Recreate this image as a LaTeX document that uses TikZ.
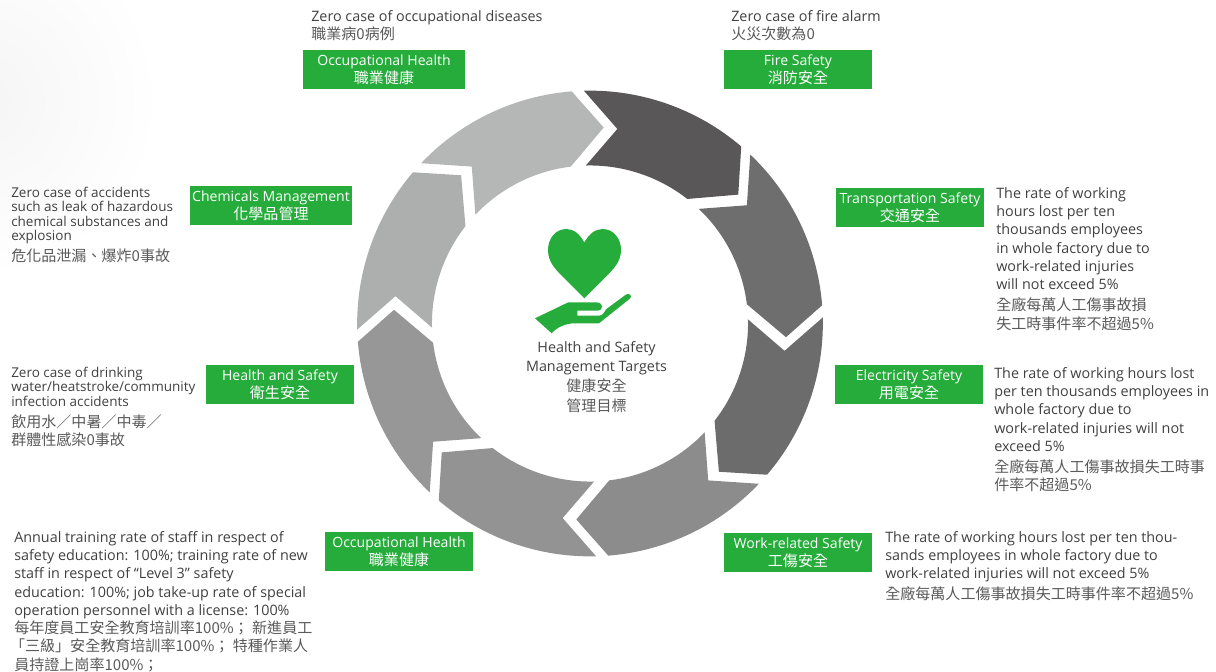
\documentclass[tikz,border=0pt]{standalone}
\usepackage{fontspec}
\setmainfont{Open Sans}
\newfontfamily\cjkfont{Noto Sans CJK TC}
\usetikzlibrary{positioning}

\definecolor{boxgreen}{HTML}{25AC3B}
\definecolor{textgray}{HTML}{404040}
\definecolor{cjkgray}{HTML}{5A5A5A}
\definecolor{ringA}{HTML}{595757}
\definecolor{ringB}{HTML}{6E6E6E}
\definecolor{ringC}{HTML}{6C6C6C}
\definecolor{ringD}{HTML}{8C8C8C}
\definecolor{ringE}{HTML}{939393}
\definecolor{ringF}{HTML}{979797}
\definecolor{ringG}{HTML}{ADAFAE}
\definecolor{ringH}{HTML}{B5B7B6}

\newcommand{\zh}[1]{{\cjkfont\fontsize{10.7}{12.8}\selectfont #1}}
\newcommand{\zg}[1]{\textcolor{cjkgray}{\zh{#1}}}
\newcommand{\outerrad}{5.82cm}
\newcommand{\midrad}{4.91cm}
\newcommand{\innerrad}{3.95cm}

\tikzset{
    labelbox/.style={
        rectangle, fill = boxgreen, text = white, align = center,
        inner sep = 0pt, minimum height = 0.975cm, minimum width = 3.7cm,
        font = \fontsize{10}{12.8}\selectfont
    },
    targetbox/.style={
        anchor = north west, inner sep = 0pt, align = left, text = textgray,
        font = \fontsize{10.2}{13}\selectfont
    },
    narrowbox/.style={
        targetbox, font = \fontsize{9.6}{13}\selectfont
    },
}

\begin{document}
\begin{tikzpicture}[
    x=0.025cm,
    y=-0.025cm,
]

    \useasboundingbox (0, 0) rectangle (1216, 671);

    % faint grey in the corner
    \begin{scope}
        \clip (0, 0) rectangle (1216, 671);
        \shade[inner color = black!4, outer color = white] (-20, 100) circle (4.5cm);
    \end{scope}

    % eight arrows of the ring
    \foreach \ringcolor [count=\i from 0] in {ringA, ringB, ringC, ringD, ringE, ringF, ringG, ringH} {
        \begin{scope}[shift={(590, 323.5)}, rotate=-45*\i]
            \fill[\ringcolor] (91.5:\outerrad)
                arc[start angle=91.5, end angle=49.5, radius=\outerrad]
                -- (41:\midrad) -- (52:\innerrad)
                arc[start angle=52, end angle=91.5, radius=\innerrad]
                -- (82:\midrad) -- cycle;
        \end{scope}
    }

    % heart and hand
    \fill[boxgreen] (584.3, 242.5)
        .. controls (580, 234.5) and (574, 229) .. (566.5, 229)
        .. controls (555, 229) and (548, 239) .. (548, 250)
        .. controls (548, 262) and (555, 269) .. (565, 279)
        -- (584.3, 298.3) -- (603.6, 279)
        .. controls (613.6, 269) and (621, 262) .. (621, 250)
        .. controls (621, 239) and (614, 229) .. (602.5, 229)
        .. controls (595, 229) and (588.6, 234.5) .. (584.3, 242.5) -- cycle;
    \fill[boxgreen] (535, 318.3) -- (568.3, 302.3) -- (596, 302.3)
        .. controls (604, 302.3) and (604, 310.7) .. (597, 310.7)
        -- (577.3, 310.7) -- (577.3, 315.7) -- (599, 315.7)
        .. controls (603, 315.7) and (605, 311) .. (606, 309.3)
        -- (626, 294.5) .. controls (629, 292.5) and (633, 296) .. (630, 298.5)
        -- (599, 323.3) -- (575, 323.3)
        .. controls (565, 323.3) and (556, 328) .. (551.7, 333.3) -- cycle;

    \node[align = center, text = textgray, font = \fontsize{10.2}{13.4}\selectfont] (Target) at (596.5, 377)
        {Health and Safety\\Management Targets\\[1pt] \zg{健康安全}\\[0.5pt] \zg{管理目標}};

    \node[labelbox, minimum width = 4.05cm] (OccTop)    at (384, 69.5)    {Occupational Health\\ \zh{職業健康}};
    \node[labelbox]                         (Fire)      at (798, 69.5)    {Fire Safety\\ \zh{消防安全}};
    \node[labelbox, minimum width = 4.05cm] (Chem)      at (271, 205.5)   {Chemicals Management\\ \zh{化學品管理}};
    \node[labelbox]                         (Transport) at (910, 207.5)   {Transportation Safety\\ \zh{交通安全}};
    \node[labelbox]                         (Hygiene)   at (280, 384.5)   {Health and Safety\\ \zh{衛生安全}};
    \node[labelbox]                         (Electric)  at (909, 384.5)   {Electricity Safety\\ \zh{用電安全}};
    \node[labelbox]                         (OccLow)    at (399, 551.5)   {Occupational Health\\ \zh{職業健康}};
    \node[labelbox]                         (Work)      at (798, 552.5)   {Work-related Safety\\ \zh{工傷安全}};

    \node[targetbox] (OccTopText) at (311, 10)
        {Zero case of occupational diseases\\ \zg{職業病0病例}};
    \node[targetbox] (FireText) at (731, 10)
        {Zero case of fire alarm\\ \zg{火災次數為0}};
    \node[narrowbox] (ChemText) at (11, 187)
        {Zero case of accidents\\[-2.8pt]such as leak of hazardous\\[-2.8pt]chemical substances and\\[-2.8pt]explosion\\[1.5pt] \zg{危化品泄漏、爆炸0事故}};
    \node[narrowbox] (HygieneText) at (11, 367)
        {Zero case of drinking\\[-2.8pt]water/heatstroke/community\\[-2.8pt]infection accidents\\[2pt] \zg{飲用水／中暑／中毒／}\\ \zg{群體性感染0事故}};
    \node[targetbox] (OccLowText) at (14, 531)
        {Annual training rate of staff in respect of\\safety education: 100\%; training rate of new\\staff in respect of “Level 3” safety\\education: 100\%; job take-up rate of special\\operation personnel with a license: 100\%\\ \zg{每年度員工安全教育培訓率100\%； 新進員工}\\ \hspace*{-3pt}\zg{「三級」安全教育培訓率100\%； 特種作業人}\\ \zg{員持證上崗率100\%；}};
    \node[targetbox] (TransportText) at (996, 187)
        {The rate of working\\hours lost per ten\\thousands employees\\in whole factory due to\\work-related injuries\\will not exceed 5\%\\[1.5pt] \zg{全廠每萬人工傷事故損}\\[0.5pt] \zg{失工時事件率不超過5\%}};
    \node[targetbox] (ElectricText) at (994, 367)
        {The rate of working hours lost\\per ten thousands employees in\\whole factory due to\\work-related injuries will not\\exceed 5\%\\[2pt] \zg{全廠每萬人工傷事故損失工時事}\\ \zg{件率不超過5\%}};
    \node[targetbox] (WorkText) at (885, 531)
        {The rate of working hours lost per ten thou-\\sands employees in whole factory due to\\work-related injuries will not exceed 5\%\\[2pt] \zg{全廠每萬人工傷事故損失工時事件率不超過5\%}};

\end{tikzpicture}
\end{document}
